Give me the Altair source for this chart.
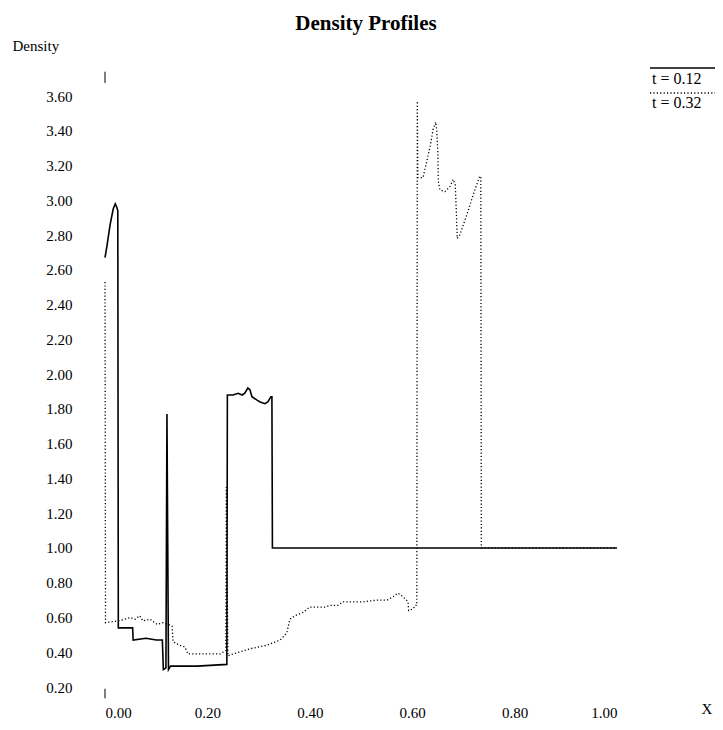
import altair as alt
import pandas as pd

series_names = ["t = 0.12", "t = 0.32"]

# t = 0.12 (solid)
x_012 = [0.000, 0.004, 0.010, 0.016, 0.020, 0.023, 0.025, 0.026, 0.054, 0.055, 0.080, 0.100,
         0.112, 0.114, 0.119, 0.121, 0.124, 0.128, 0.180, 0.238, 0.239, 0.250, 0.260, 0.268,
         0.273, 0.279, 0.283, 0.287, 0.297, 0.303, 0.3125, 0.318, 0.324, 0.326, 0.327, 1.000]
y_012 = [2.67, 2.74, 2.86, 2.95, 2.98, 2.96, 2.94, 0.54, 0.54, 0.47, 0.48, 0.47,
         0.47, 0.30, 0.31, 1.77, 0.30, 0.32, 0.32, 0.33, 1.88, 1.88, 1.89, 1.88,
         1.89, 1.92, 1.91, 1.87, 1.85, 1.84, 1.83, 1.84, 1.87, 1.87, 1.00, 1.00]

# t = 0.32 (dotted)
x_032 = [0.000, 0.001, 0.025, 0.039, 0.049, 0.059, 0.068, 0.074, 0.088, 0.102, 0.113, 0.123,
         0.131, 0.133, 0.146, 0.156, 0.162, 0.172, 0.225, 0.230, 0.236, 0.237, 0.240, 0.250,
         0.283, 0.316, 0.342, 0.355, 0.361, 0.371, 0.387, 0.400, 0.414, 0.430, 0.440, 0.455,
         0.465, 0.479, 0.504, 0.531, 0.551, 0.563, 0.572, 0.582, 0.592, 0.593, 0.602, 0.606,
         0.609, 0.610, 0.611, 0.621, 0.625, 0.635, 0.641, 0.646, 0.648, 0.650, 0.651, 0.654,
         0.664, 0.674, 0.680, 0.684, 0.686, 0.688, 0.693, 0.707, 0.719, 0.732, 0.734, 0.735,
         1.000]
y_032 = [2.53, 0.57, 0.58, 0.59, 0.60, 0.59, 0.61, 0.58, 0.59, 0.56, 0.57, 0.56,
         0.55, 0.46, 0.44, 0.43, 0.39, 0.39, 0.39, 0.40, 0.41, 1.35, 0.38, 0.39,
         0.42, 0.44, 0.47, 0.51, 0.59, 0.61, 0.63, 0.66, 0.66, 0.66, 0.67, 0.67,
         0.69, 0.69, 0.69, 0.70, 0.70, 0.72, 0.74, 0.72, 0.69, 0.64, 0.65, 0.67,
         0.67, 3.57, 3.13, 3.13, 3.18, 3.31, 3.41, 3.45, 3.40, 3.28, 3.11, 3.06,
         3.05, 3.08, 3.12, 3.09, 2.95, 2.78, 2.80, 2.92, 3.03, 3.14, 3.13, 1.00,
         1.00]

x_ticks = [0.0, 0.2, 0.4, 0.6, 0.8, 1.0]
y_ticks = [0.2, 0.4, 0.6, 0.8, 1.0, 1.2, 1.4, 1.6, 1.8, 2.0, 2.2, 2.4, 2.6, 2.8, 3.0, 3.2, 3.4, 3.6]

# small marks at the two ends of the (otherwise invisible) vertical axis
axis_marks_lo = [3.675, 0.135]
axis_marks_hi = [3.740, 0.190]

FONT = "Liberation Serif"

df1 = pd.DataFrame({"x": x_012, "y": y_012, "i": list(range(len(x_012)))})
df2 = pd.DataFrame({"x": x_032, "y": y_032, "i": list(range(len(x_032)))})
dmarks = pd.DataFrame({"x": [0.0, 0.0], "y": axis_marks_lo, "y2": axis_marks_hi})

xs = alt.Scale(domain=[0, 1], nice=False, zero=False)
ys = alt.Scale(domain=[0.2, 3.6], nice=False, zero=False)

x_axis = alt.Axis(values=x_ticks, format=".2f", domain=False, ticks=False, grid=False,
                  labelFont=FONT, labelFontSize=15, labelColor="black", labelPadding=18,
                  title="X", titleFont=FONT, titleFontSize=15, titleFontWeight="normal",
                  titleColor="black", titleAlign="left", titleBaseline="middle",
                  titleX=596, titleY=21)
y_axis = alt.Axis(values=y_ticks, format=".2f", domain=False, ticks=False, grid=False,
                  labelFont=FONT, labelFontSize=15, labelColor="black", labelPadding=33,
                  title="Density", titleFont=FONT, titleFontSize=15, titleFontWeight="normal",
                  titleColor="black", titleAngle=0, titleAlign="left", titleBaseline="alphabetic",
                  titleX=-93, titleY=-46)

solid = alt.Chart(df1).mark_line(color="black", strokeWidth=1.6).encode(
    x=alt.X("x:Q", scale=xs, axis=x_axis),
    y=alt.Y("y:Q", scale=ys, axis=y_axis),
    order="i:Q",
)
dotted = alt.Chart(df2).mark_line(color="black", strokeWidth=1.3, strokeDash=[1.2, 2.2]).encode(
    x=alt.X("x:Q", scale=xs, axis=x_axis),
    y=alt.Y("y:Q", scale=ys, axis=y_axis),
    order="i:Q",
)
marks = alt.Chart(dmarks).mark_rule(color="black", strokeWidth=1).encode(
    x=alt.X("x:Q", scale=xs, axis=x_axis),
    y=alt.Y("y:Q", scale=ys, axis=y_axis),
    y2="y2:Q",
)

# legend (drawn manually: a line above each label)
leg1_line = alt.Chart(pd.DataFrame({"k": [0]})).mark_rule(color="black", strokeWidth=1.3).encode(
    x=alt.value(545), x2=alt.value(620), y=alt.value(-28))
leg1_text = alt.Chart(pd.DataFrame({"t": [series_names[0]]})).mark_text(
    font=FONT, fontSize=16, align="left", baseline="alphabetic", color="black").encode(
    x=alt.value(547), y=alt.value(-12), text="t:N")
leg2_line = alt.Chart(pd.DataFrame({"k": [0]})).mark_rule(color="black", strokeWidth=1.3,
                                                          strokeDash=[1.2, 2.2]).encode(
    x=alt.value(545), x2=alt.value(620), y=alt.value(-3))
leg2_text = alt.Chart(pd.DataFrame({"t": [series_names[1]]})).mark_text(
    font=FONT, fontSize=16, align="left", baseline="alphabetic", color="black").encode(
    x=alt.value(547), y=alt.value(12), text="t:N")

chart = alt.layer(solid, dotted, marks, leg1_line, leg1_text, leg2_line, leg2_text).properties(
    width=512, height=591,
    background="white",
    title=alt.TitleParams("Density Profiles", font=FONT, fontSize=21, fontWeight="bold",
                          color="black", anchor="middle", frame="group", offset=4, dx=5),
    autosize=alt.AutoSizeParams(type="none"),
    padding={"left": 97, "top": 88, "right": 98, "bottom": 35},
).configure_view(stroke=None)

chart.save("out.html", embed_options={"renderer": "svg", "actions": False})
